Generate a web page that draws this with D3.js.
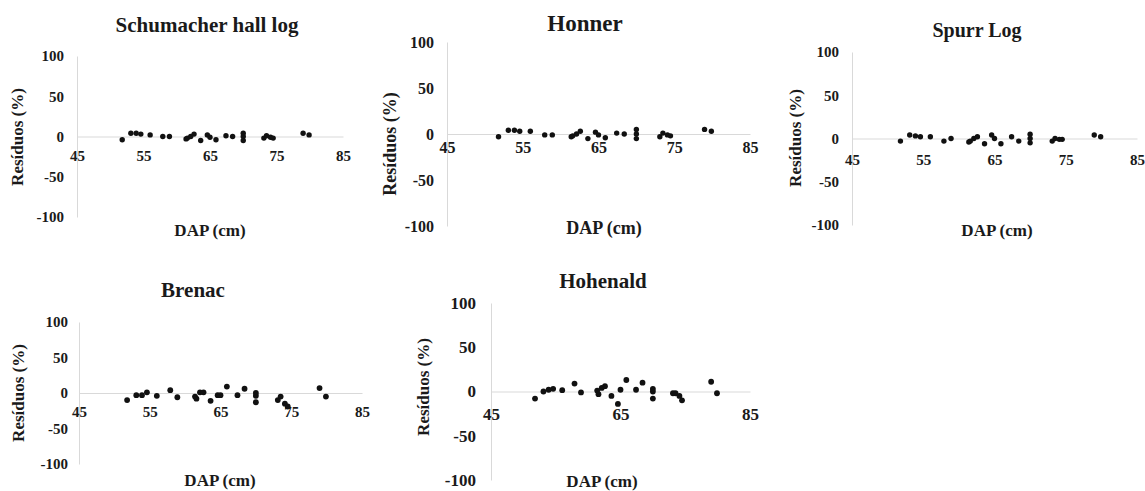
<!DOCTYPE html>
<html>
<head>
<meta charset="utf-8">
<script src="https://cdn.jsdelivr.net/npm/d3@7"></script>
<style>
	body { margin: 0; background: #fff; }
	#myGraph text { font-family: 'Liberation Serif', 'DejaVu Serif', serif !important; font-weight: bold; fill: #1a1a1a; }
</style>
</head>
<body>
<svg id="myGraph" width="1145" height="491" font-family="Liberation Serif"></svg>
<script>
// 공통 데이터 (DAP, cm) - 모든 그래프에서 같은 나무
var dap = [51.8, 53.1, 53.9, 54.6, 56.0, 57.9, 58.9, 61.4, 61.6, 62.1, 62.6, 63.6, 64.6,
	65.0, 65.9, 67.4, 68.4, 70.0, 70.0, 70.0, 73.1, 73.5, 74.1, 74.5, 79.0, 79.9];

// 각 모델의 잔차 (%)
var resSchumacher = [-4, 4, 4, 3, 2, 0, 0, -3, -2, 0, 3, -5, 2, -1, -4, 1, 0, 4, 0, -5, -2, 1, -1, -2, 4, 2];
var resHonner     = [-3, 4, 4, 3, 3, -1, -1, -3, -2, 0, 3, -5, 2, -1, -4, 1, 0, 5, 0, -5, -3, 1, -1, -2, 5, 3];
var resSpurr      = [-3, 4, 3, 2, 2, -3, 0, -4, -3, 0, 2, -6, 4, 0, -6, 2, -3, 5, 0, -5, -3, 0, -1, -1, 4, 2];
var resBrenac     = [-10, -3, -3, 1, -4, 4, -6, -5, -8, 1, 1, -11, -3, -3, 9, -3, 6, 0, -4, -13, -10, -5, -15, -19, 7, -5];
var resHohenald   = [-8, 0, 2, 3, 1.5, 9, -1, 1, -3, 4, 6, -5, -14, 2, 13, 2, 10, 3, 0, -8, -2, -2, -5, -10, 11, -2];

var titles = ["Schumacher hall log", "Honner", "Spurr Log", "Brenac", "Hohenald"];
var yTicks = [-100, -50, 0, 50, 100];
var xTicksA = [45, 55, 65, 75, 85];
var xTicksB = [45, 65, 85];

var svg = d3.select("#myGraph");
var serif = "'Liberation Serif', 'DejaVu Serif', serif";
var plain = function(d){ return String(d); };	// 하이픈 마이너스 사용

// 그래프 한 개 그리기
function drawPanel(p, title, res, xTicks) {
	var x = d3.scaleLinear().domain([45, 85]).range([p.x0, p.x1]);
	var y = d3.scaleLinear().domain([-100, 100]).range([p.yb, p.yt]);
	var g = svg.append("g");

	// y축
	var ya = g.append("g")
		.attr("transform", "translate(" + p.x0 + ",0)")
		.call(d3.axisLeft(y).tickValues(yTicks).tickFormat(plain).tickSize(0).tickPadding(p.yPad));
	ya.attr("font-family", serif).attr("font-size", p.tf);
	ya.select(".domain").attr("stroke", "#d9d9d9");

	// x축 (0 위치)
	var xa = g.append("g")
		.attr("transform", "translate(0," + y(0) + ")")
		.call(d3.axisBottom(x).tickValues(xTicks).tickFormat(plain).tickSize(0).tickPadding(p.xPad));
	xa.attr("font-family", serif).attr("font-size", p.tf);
	xa.select(".domain").attr("stroke", "#d9d9d9");

	// 점
	g.selectAll("circle")
		.data(dap)
		.enter()
		.append("circle")
		.attr("cx", function(d){ return x(d); })
		.attr("cy", function(d, i){ return y(res[i]); })
		.attr("r", p.r)
		.style("fill", "#111");

	// 제목
	g.append("text")
		.attr("x", p.tx).attr("y", p.ty)
		.attr("text-anchor", "middle")
		.style("font-size", p.tfs + "px")
		.text(title);

	g.append("text")
		.attr("x", p.dx).attr("y", p.dy)
		.attr("text-anchor", "middle")
		.style("font-size", p.af + "px")
		.text("DAP (cm)");

	g.append("text")
		.attr("transform", "translate(" + p.rx + "," + p.ry + ") rotate(-90)")
		.attr("text-anchor", "middle")
		.attr("dy", "0.35em")
		.style("font-size", p.af + "px")
		.text("Resíduos (%)");
}

var panels = [
	{x0: 77, x1: 343, yt: 56, yb: 217, tf: 15, yPad: 13, xPad: 14, r: 2.7, tx: 207, ty: 32, tfs: 21, dx: 210, dy: 236, af: 17, rx: 17, ry: 137},
	{x0: 447, x1: 750, yt: 42, yb: 226, tf: 16, yPad: 13, xPad: 8, r: 2.7, tx: 585, ty: 31, tfs: 23, dx: 604, dy: 234, af: 18, rx: 390, ry: 144},
	{x0: 852, x1: 1137, yt: 52, yb: 225, tf: 15, yPad: 13, xPad: 16, r: 2.7, tx: 977, ty: 37, tfs: 20, dx: 997, dy: 236, af: 17, rx: 795, ry: 138},
	{x0: 79, x1: 362, yt: 322, yb: 464, tf: 15, yPad: 11, xPad: 13, r: 2.9, tx: 193, ty: 297, tfs: 21, dx: 220, dy: 486, af: 17, rx: 18, ry: 393},
	{x0: 491, x1: 750, yt: 303, yb: 480, tf: 17, yPad: 15, xPad: 16, r: 2.9, tx: 603, ty: 288, tfs: 21, dx: 602, dy: 487, af: 17, rx: 423, ry: 387}
];

var allRes = [resSchumacher, resHonner, resSpurr, resBrenac, resHohenald];

panels.forEach(function(p, i){
	drawPanel(p, titles[i], allRes[i], i == 4 ? xTicksB : xTicksA);
});
</script>
</body>
</html>
